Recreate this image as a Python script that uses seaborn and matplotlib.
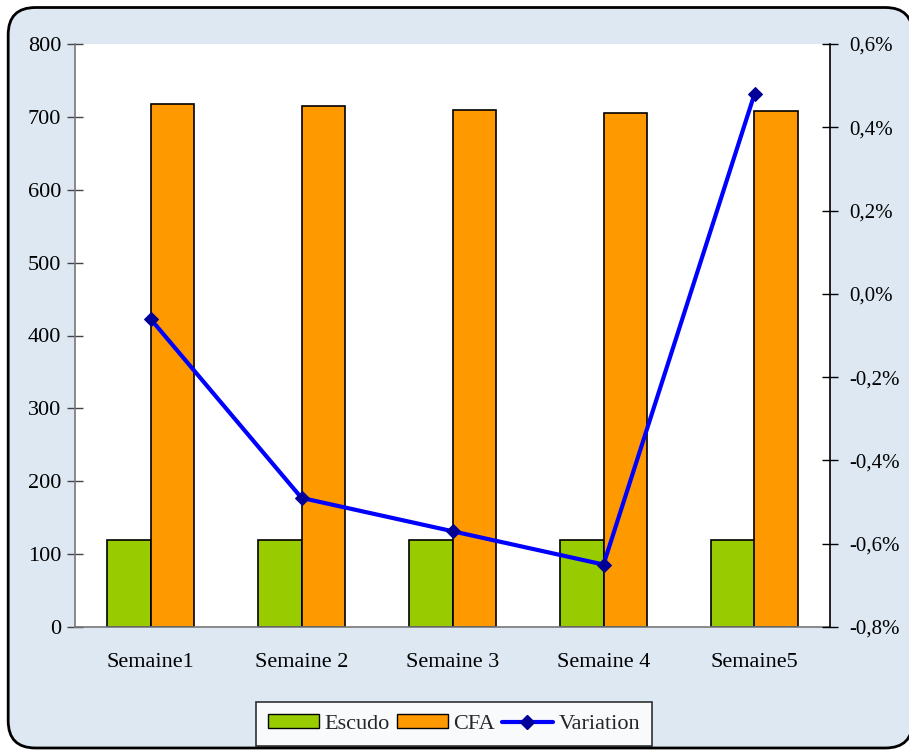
import matplotlib
matplotlib.use("Agg")
import matplotlib.pyplot as plt
import seaborn as sns
import pandas as pd
import numpy as np
from matplotlib.patches import FancyBboxPatch, Patch
from matplotlib.lines import Line2D
from matplotlib.ticker import FuncFormatter

categories = ["Semaine1", "Semaine 2", "Semaine 3", "Semaine 4", "Semaine5"]
escudo = [120, 120, 120, 120, 120]
cfa = [717, 715, 710, 705, 708]
variation = [-0.06, -0.49, -0.57, -0.65, 0.48]  # percent

sns.set_theme(style="white")
plt.rcParams['font.family'] = ['Liberation Serif', 'DejaVu Serif']

fig = plt.figure(figsize=(9.09, 7.51), dpi=100)
fig.patch.set_facecolor("white")
bg = FancyBboxPatch((0.009, 0.004), 0.995, 0.986, boxstyle="round,pad=0,rounding_size=0.03",
                    transform=fig.transFigure, facecolor="#dde8f3", edgecolor="black",
                    linewidth=2, mutation_aspect=909/751, zorder=-10)
fig.patches.append(bg)

ax = fig.add_axes([75/909, 1-627/751, 755/909, 583/751])
ax.set_facecolor("white")

df = pd.DataFrame({
    "cat": categories * 2,
    "val": escudo + cfa,
    "serie": ["Escudo"] * 5 + ["CFA"] * 5,
})
sns.barplot(data=df, x="cat", y="val", hue="serie", order=categories,
            hue_order=["Escudo", "CFA"], palette=["#99cc00", "#ff9900"],
            width=0.58, edgecolor="black", linewidth=1.2, saturation=1,
            legend=False, ax=ax)
ax.set_xlim(-0.5, 4.5)
ax.set_ylim(0, 800)
ax.set_yticks(np.arange(0, 801, 100))
ax.set_xlabel("")
ax.set_ylabel("")
ax.tick_params(axis="x", length=0, labelsize=16, pad=19, colors="black")
ax.tick_params(axis="y", direction="inout", length=12, width=1, labelsize=16, colors="black", pad=4)
ax.set_xticks(range(5))
ax.set_xticklabels(categories)
# category boundary ticks
ax.set_xticks(np.arange(-0.5, 5, 1), minor=True)
ax.tick_params(axis="x", which="minor", direction="inout", length=14, width=1, color="#444444")
ax.tick_params(axis="y", color="#444444")
for s in ["top", "right"]:
    ax.spines[s].set_visible(False)
ax.spines["left"].set_color("#777777")
ax.spines["bottom"].set_color("#777777")
ax.spines["left"].set_linewidth(1.2)
ax.spines["bottom"].set_linewidth(1.2)

ax2 = ax.twinx()
ldf = pd.DataFrame({"x": np.arange(5), "v": variation})
sns.lineplot(data=ldf, x="x", y="v", ax=ax2, color="#0000ff", linewidth=3,
             marker="D", markersize=7, markerfacecolor="#000099", markeredgecolor="#000099")
ax2.set_xlim(-0.5, 4.5)
ax2.set_ylim(-0.8, 0.6)
ax2.set_yticks(np.arange(-0.8, 0.61, 0.2))
ax2.yaxis.set_major_formatter(FuncFormatter(lambda v, p: f"{v:.1f}%".replace(".", ",").replace("-0,0", "0,0")))
ax2.set_xlabel("")
ax2.set_ylabel("")
ax2.tick_params(axis="y", direction="inout", length=12, width=1, labelsize=15, colors="black", pad=8)
for s in ["top", "left", "bottom"]:
    ax2.spines[s].set_visible(False)
ax2.spines["right"].set_color("black")
ax2.spines["right"].set_linewidth(1.2)

handles = [
    Patch(facecolor="#99cc00", edgecolor="black", label="Escudo"),
    Patch(facecolor="#ff9900", edgecolor="black", label="CFA"),
    Line2D([0], [0], color="#0000ff", lw=3, marker="D", markersize=7,
           markerfacecolor="#000099", markeredgecolor="#000099", label="Variation"),
]
leg = fig.legend(handles=handles, loc="center", bbox_to_anchor=(454/909, 1-724/751), ncol=3,
                 frameon=True, fancybox=False, edgecolor="black", fontsize=16,
                 handlelength=2.3, handleheight=0.6, handletextpad=0.25, columnspacing=0.3,
                 borderpad=0.55, borderaxespad=0)
leg.get_frame().set_linewidth(1.2)

fig.savefig("out.png", dpi=100, facecolor=fig.get_facecolor())
